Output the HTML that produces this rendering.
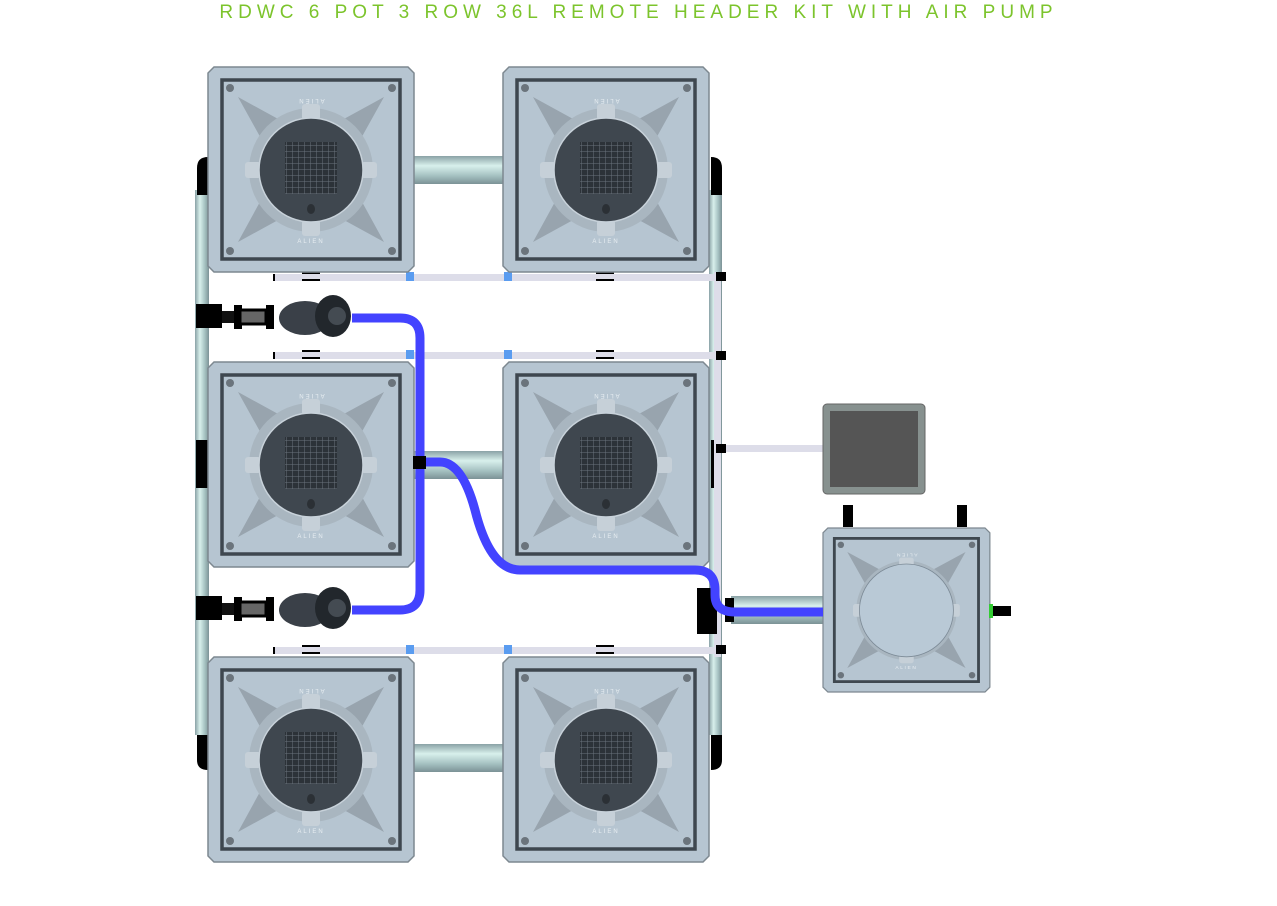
<!DOCTYPE html>
<html><head><meta charset="utf-8"><style>
html,body{margin:0;padding:0;background:#fff;width:1277px;height:906px;overflow:hidden}
.t{position:absolute;left:0;top:2px;width:1277px;text-align:center;color:#7cc42c;font:19px "Liberation Sans",sans-serif;letter-spacing:5px}
</style></head><body>
<div class="t">RDWC 6 POT 3 ROW 36L REMOTE HEADER KIT WITH AIR PUMP</div>
<svg width="1277" height="906" style="position:absolute;left:0;top:0">
<defs>
<linearGradient id="ph" x1="0" y1="0" x2="0" y2="1"><stop offset="0" stop-color="#8aa2a6"/><stop offset=".35" stop-color="#d8f0ec"/><stop offset=".7" stop-color="#a6c2c2"/><stop offset="1" stop-color="#7c9296"/></linearGradient>
<linearGradient id="pv" x1="0" y1="0" x2="1" y2="0"><stop offset="0" stop-color="#8aa2a6"/><stop offset=".35" stop-color="#d8f0ec"/><stop offset=".7" stop-color="#a6c2c2"/><stop offset="1" stop-color="#7c9296"/></linearGradient>
<pattern id="grid" width="6" height="6" patternUnits="userSpaceOnUse"><rect width="6" height="6" fill="#2c3238"/><path d="M0 0H6M0 0V6" stroke="#6a737c" stroke-width="1"/></pattern>
<g id="shell">
<path d="M6 0H200L206 6V199L200 205H6L0 199V6Z" fill="#b6c5d1" stroke="#7d8890" stroke-width="1.5"/>
<rect x="14" y="13" width="178" height="179" fill="none" stroke="#3e474f" stroke-width="3.5"/>
<path d="M30 30L103 70L176 30L136 102L176 175L103 135L30 175L70 102Z" fill="#98a4ae"/>
<circle cx="103" cy="103" r="62" fill="#a9b6c0"/>
<rect x="94" y="37" width="18" height="16" rx="3" fill="#c6d0d8"/>
<rect x="94" y="153" width="18" height="16" rx="3" fill="#c6d0d8"/>
<rect x="37" y="95" width="16" height="16" rx="3" fill="#c6d0d8"/>
<rect x="153" y="95" width="16" height="16" rx="3" fill="#c6d0d8"/>
<g fill="#6b747c"><circle cx="22" cy="21" r="4"/><circle cx="184" cy="21" r="4"/><circle cx="22" cy="184" r="4"/><circle cx="184" cy="184" r="4"/></g>
<text x="103" y="36" font-size="6" fill="#e8eef2" text-anchor="middle" font-family="Liberation Sans" letter-spacing="2" transform="rotate(180 103 34)">ALIEN</text>
<text x="103" y="176" font-size="6" fill="#e8eef2" text-anchor="middle" font-family="Liberation Sans" letter-spacing="2">ALIEN</text>
</g>
<g id="pot"><use href="#shell"/>
<circle cx="103" cy="103" r="52" fill="#3f474f" stroke="#c8d2da" stroke-width="1.5"/>
<rect x="77" y="75" width="52" height="52" fill="url(#grid)"/>
<ellipse cx="103" cy="142" rx="4" ry="5" fill="#2b3035"/>
</g>
</defs>
<rect x="414" y="156" width="89" height="28" fill="url(#ph)"/>
<rect x="414" y="451" width="89" height="28" fill="url(#ph)"/>
<rect x="414" y="744" width="89" height="28" fill="url(#ph)"/>
<rect x="195" y="190" width="14" height="545" fill="url(#pv)"/>
<rect x="709" y="190" width="13" height="545" fill="url(#pv)"/>
<path d="M197 195V168Q197 157 208 157V195Z" fill="#000"/>
<path d="M197 735V760Q197 770 208 770V735Z" fill="#000"/>
<path d="M722 195V168Q722 157 711 157V195Z" fill="#000"/>
<path d="M722 735V760Q722 770 711 770V735Z" fill="#000"/>
<rect x="196" y="440" width="12" height="48" fill="#000"/>
<rect x="711" y="440" width="10" height="48" fill="#000"/>
<g fill="#dddde9">
<rect x="273" y="274" width="447" height="7"/>
<rect x="273" y="352" width="447" height="7"/>
<rect x="273" y="647" width="447" height="7"/>
<rect x="714" y="272" width="7" height="385"/>
<rect x="720" y="445" width="103" height="7"/>
</g>
<g fill="#000">
<rect x="273" y="274" width="2" height="7"/><rect x="273" y="352" width="2" height="7"/><rect x="273" y="647" width="2" height="7"/>
<rect x="302" y="272" width="18" height="2"/><rect x="302" y="279" width="18" height="2"/>
<rect x="596" y="272" width="18" height="2"/><rect x="596" y="279" width="18" height="2"/>
<rect x="302" y="350" width="18" height="2"/><rect x="302" y="357" width="18" height="2"/>
<rect x="596" y="350" width="18" height="2"/><rect x="596" y="357" width="18" height="2"/>
<rect x="302" y="645" width="18" height="2"/><rect x="302" y="652" width="18" height="2"/>
<rect x="596" y="645" width="18" height="2"/><rect x="596" y="652" width="18" height="2"/>
<rect x="716" y="272" width="10" height="9"/><rect x="716" y="351" width="10" height="9"/><rect x="716" y="444" width="10" height="9"/><rect x="716" y="645" width="10" height="9"/>
</g>
<g fill="#5a9cf0">
<rect x="406" y="272" width="8" height="9"/><rect x="504" y="272" width="8" height="9"/>
<rect x="406" y="350" width="8" height="9"/><rect x="504" y="350" width="8" height="9"/>
<rect x="406" y="645" width="8" height="9"/><rect x="504" y="645" width="8" height="9"/>
</g>
<use href="#pot" x="208" y="67"/><use href="#pot" x="503" y="67"/>
<use href="#pot" x="208" y="362"/><use href="#pot" x="503" y="362"/>
<use href="#pot" x="208" y="657"/><use href="#pot" x="503" y="657"/>
<rect x="731" y="596" width="92" height="28" fill="url(#ph)"/>
<rect x="843" y="505" width="10" height="22" fill="#000"/><rect x="957" y="505" width="10" height="22" fill="#000"/>
<g transform="translate(823,528) scale(0.81,0.80)"><use href="#shell"/><circle cx="103" cy="103" r="58" fill="#b9c9d6" stroke="#7c8a96" stroke-width="1"/></g>
<rect x="989" y="604" width="4" height="14" fill="#3c3"/><rect x="993" y="606" width="18" height="10" fill="#000"/>
<rect x="697" y="588" width="20" height="46" fill="#000"/><rect x="725" y="598" width="9" height="24" fill="#000"/>
<rect x="823" y="404" width="102" height="90" rx="4" fill="#87918f" stroke="#666" stroke-width="1"/>
<rect x="830" y="411" width="88" height="76" fill="#555"/>
<g fill="none" stroke="#4343ff" stroke-width="9">
<path d="M352 318H400Q420 318 420 338V590Q420 610 400 610H352"/>
<path d="M420 462H440Q462 462 475 510Q490 570 520 570H695Q715 570 715 590V595Q715 612 735 612H823"/>
</g>
<rect x="413" y="456" width="13" height="13" fill="#000"/>
<g id="pmp">
<rect x="196" y="304" width="26" height="24" fill="#000"/>
<rect x="222" y="311" width="12" height="12" fill="#111"/>
<rect x="234" y="305" width="8" height="24" fill="#000"/>
<rect x="240" y="310" width="26" height="14" fill="#666" stroke="#000" stroke-width="3"/>
<rect x="266" y="305" width="8" height="24" fill="#000"/>
<ellipse cx="305" cy="318" rx="26" ry="17" fill="#3a4048"/>
<ellipse cx="333" cy="316" rx="18" ry="21" fill="#22272c"/>
<circle cx="337" cy="316" r="9" fill="#444b52"/>
</g>
<use href="#pmp" y="292"/>
</svg>
</body></html>
